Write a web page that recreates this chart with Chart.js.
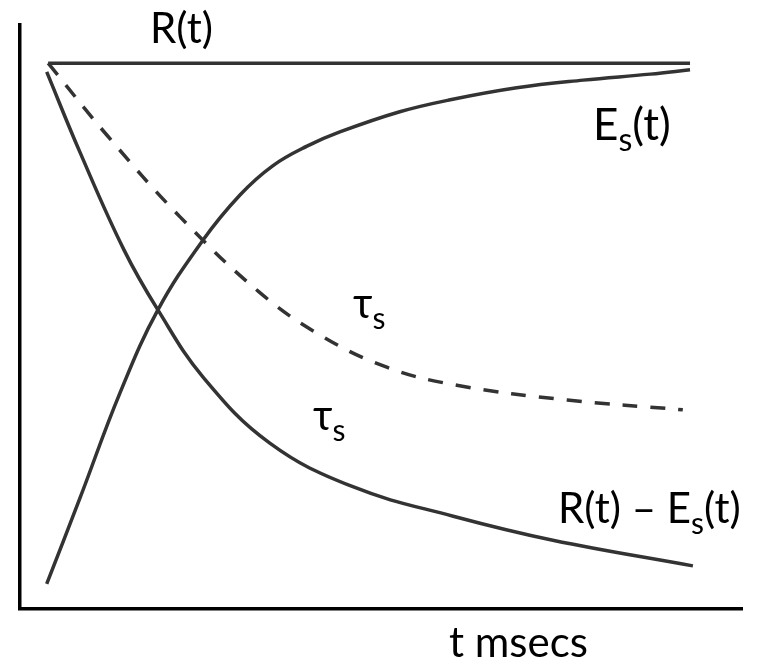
<!DOCTYPE html>
<html>
<head>
<meta charset="utf-8">
<script src="https://cdn.jsdelivr.net/npm/chart.js@4.4.1/dist/chart.umd.min.js"></script>
<style>
  html, body { margin: 0; padding: 0; background: #fff; }
  #wrap { width: 761px; height: 670px; }
</style>
</head>
<body>
<div id="wrap"><canvas id="c" width="761" height="670"></canvas></div>
<script>
// R(t): constant reference level
const rT = [3.9, 92.8];
const rV = [1.0, 1.0];

// Es(t): rising curve
const esT = [3.7, 8.3, 13.85, 19.1, 25.35, 30.5, 35.0, 39.75, 44.3, 52.6, 59.6, 68.8, 78.0, 87.3, 92.8];
const esV = [0.046, 0.203, 0.396, 0.548, 0.676, 0.759, 0.812, 0.848, 0.874, 0.911, 0.933, 0.955, 0.969, 0.980, 0.988];

// R(t) - Es(t): falling curve
const diffT = [3.7, 8.3, 14.4, 19.1, 25.35, 34.6, 46.1, 60.0, 73.8, 93.2];
const diffV = [0.984, 0.837, 0.658, 0.548, 0.425, 0.304, 0.224, 0.170, 0.126, 0.079];

// dashed tau_s curve
const tauT = [3.9, 12.05, 22.2, 33.1, 41.55, 50.8, 60.5, 75.8, 91.8];
const tauV = [1.0, 0.868, 0.718, 0.581, 0.502, 0.443, 0.410, 0.383, 0.365];

const pts = (ts, vs) => ts.map((t, i) => ({x: t, y: vs[i]}));

const FONT = 'Lato, "Open Sans", sans-serif';
const labels = [
  {x: 150, y: 43, size: 42, parts: [['R(t)']]},
  {x: 593, y: 140, size: 44, parts: [['E'], ['s', 1], ['(t)']]},
  {x: 353, y: 318, size: 42, parts: [['τ'], ['s', 1]]},
  {x: 313, y: 430, size: 42, parts: [['τ'], ['s', 1]]},
  {x: 558, y: 523, size: 42, parts: [['R(t) – E'], ['s', 1], ['(t)']]},
  {x: 449, y: 657, size: 42, parts: [['t msecs']]}
];

const textPlugin = {
  id: 'texts',
  afterDraw(chart) {
    const ctx = chart.ctx;
    ctx.save();
    ctx.fillStyle = '#000';
    ctx.textBaseline = 'alphabetic';
    ctx.textAlign = 'left';
    labels.forEach(l => {
      let x = l.x;
      l.parts.forEach(p => {
        const sub = p[1] === 1;
        const size = sub ? Math.round(l.size * 0.72) : l.size;
        ctx.font = size + 'px ' + FONT;
        ctx.fillText(p[0], x, l.y + (sub ? 11 : 0));
        x += ctx.measureText(p[0]).width;
      });
    });
    ctx.restore();
  }
};

const lineStyle = {
  borderColor: '#333333',
  borderWidth: 3.5,
  pointRadius: 0,
  fill: false,
  tension: 0.4
};

new Chart(document.getElementById('c'), {
  type: 'line',
  data: {
    datasets: [
      Object.assign({label: 'R(t)', data: pts(rT, rV)}, lineStyle),
      Object.assign({label: 'Es(t)', data: pts(esT, esV)}, lineStyle),
      Object.assign({label: 'R(t) - Es(t)', data: pts(diffT, diffV)}, lineStyle),
      Object.assign({label: 'tau_s', data: pts(tauT, tauV), borderDash: [15, 13]}, lineStyle)
    ]
  },
  options: {
    responsive: false,
    animation: false,
    events: [],
    layout: { padding: {left: 20, right: 19, top: 25, bottom: 61} },
    plugins: { legend: {display: false}, tooltip: {enabled: false} },
    scales: {
      x: {
        type: 'linear', min: 0, max: 100,
        grid: {display: false, drawTicks: false},
        ticks: {display: false},
        border: {display: true, color: '#000', width: 3.5}
      },
      y: {
        type: 'linear', min: 0, max: 1.07,
        grid: {display: false, drawTicks: false},
        ticks: {display: false},
        border: {display: true, color: '#000', width: 3.5}
      }
    }
  },
  plugins: [textPlugin]
});
</script>
</body>
</html>
